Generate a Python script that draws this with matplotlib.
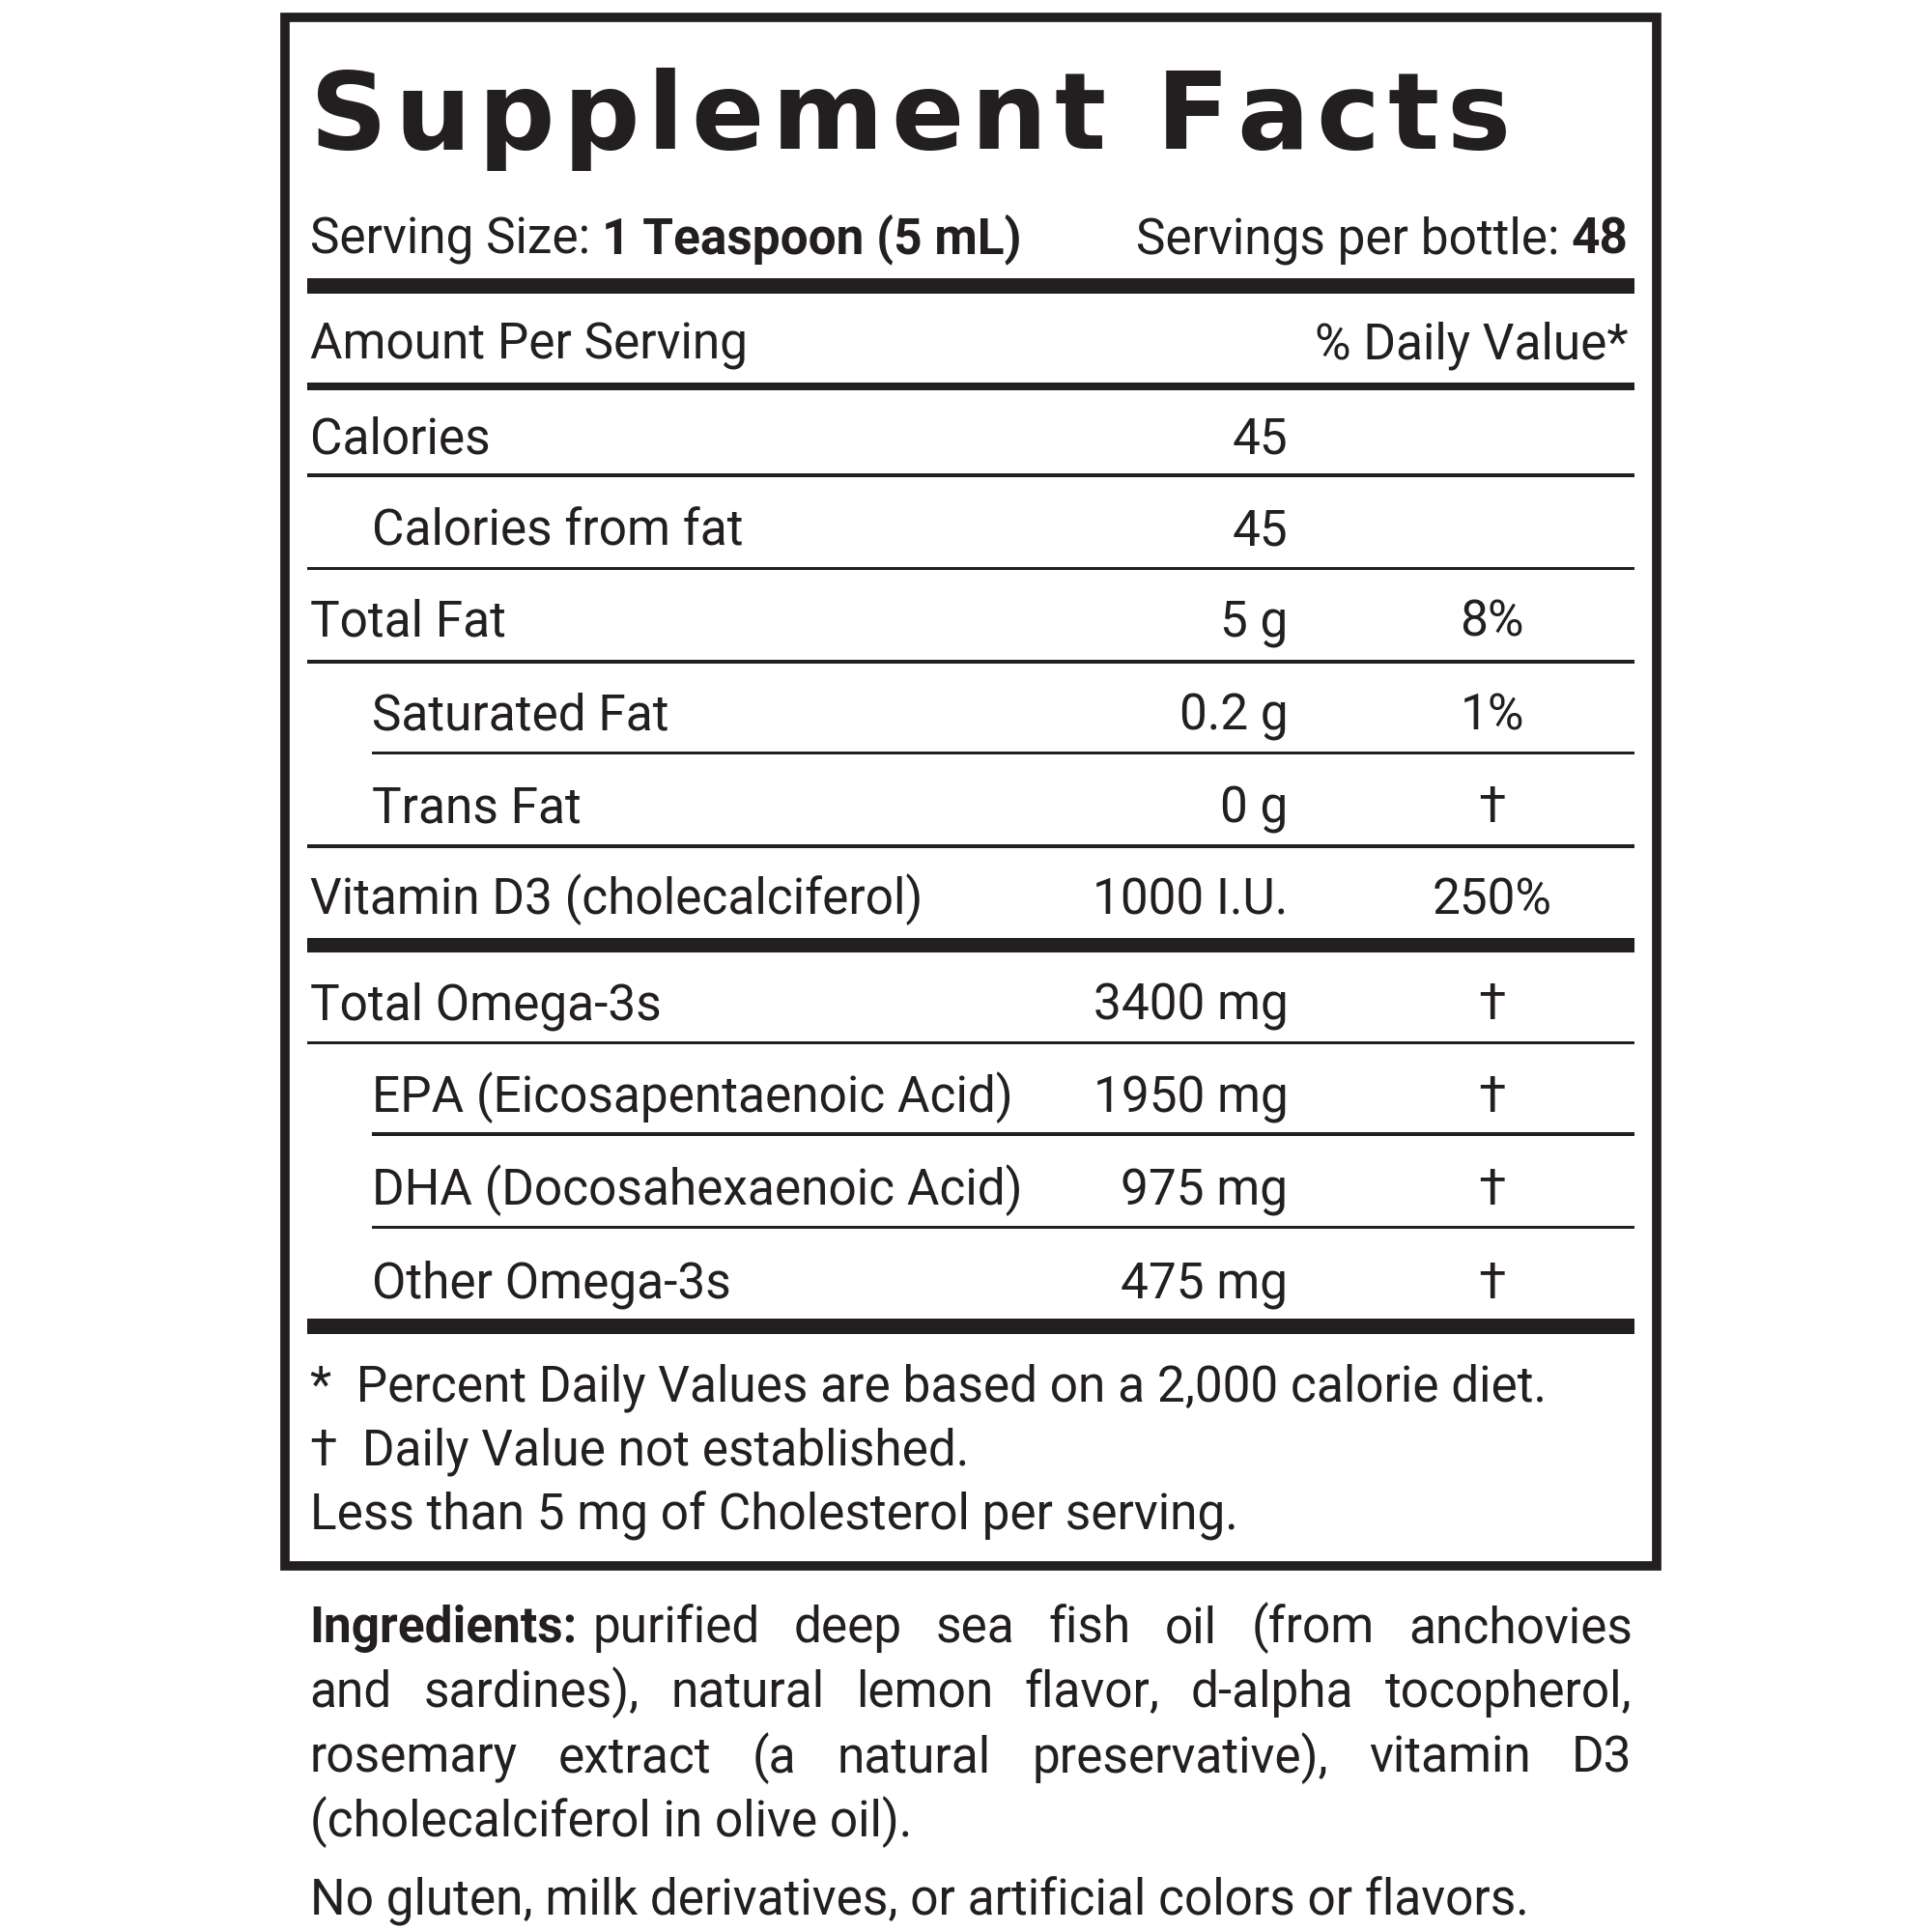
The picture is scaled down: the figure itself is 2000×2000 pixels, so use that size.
import matplotlib
matplotlib.use('Agg')
import matplotlib.pyplot as plt
from matplotlib.patches import Rectangle

# Daten
labels = ['Calories', 'Calories from fat', 'Total Fat', 'Saturated Fat', 'Trans Fat',
          'Vitamin D3 (cholecalciferol)', 'Total Omega-3s', 'EPA (Eicosapentaenoic Acid)',
          'DHA (Docosahexaenoic Acid)', 'Other Omega-3s']
amounts = ['45', '45', '5 g', '0.2 g', '0 g', '1000 I.U.', '3400 mg', '1950 mg', '975 mg', '475 mg']
dvs = ['', '', '8%', '1%', '\u2020', '250%', '\u2020', '\u2020', '\u2020', '\u2020']
indent = [False, True, False, True, True, False, False, True, True, True]
row_y = [350, 424, 498, 573, 648, 722, 807, 882, 957, 1032]
# separator below each row: (y, start x, thickness)
seps = [(384, 248, 3), (459, 248, 3), (534, 248, 3), (608, 300, 3), (683, 248, 3),
        (763, 248, 12), (842, 248, 3), (916, 300, 3), (991, 300, 3), (1071, 248, 12)]
footnotes = ['*  Percent Daily Values are based on a 2,000 calorie diet.',
             '\u2020  Daily Value not established.',
             'Less than 5 mg of Cholesterol per serving.']
ingr_lines = ['purified deep sea fish oil (from anchovies',
              'and sardines), natural lemon flavor, d-alpha tocopherol,',
              'rosemary extract (a natural preservative), vitamin D3',
              '(cholecalciferol in olive oil).']
last_line = 'No gluten, milk derivatives, or artificial colors or flavors.'

S = 1560.0
FONT = ['Roboto', 'DejaVu Sans']
FS = 37
C = '#231f20'

fig = plt.figure(figsize=(20, 20), dpi=100)
ax = fig.add_axes([0, 0, 1, 1])
ax.set_xlim(0, S)
ax.set_ylim(S, 0)
ax.axis('off')

def txt(x, y, s, ha='left', size=FS, weight='normal', **kw):
    return ax.text(x, y, s, ha=ha, va='baseline', fontsize=size, fontweight=weight,
                   family=FONT, color=C, **kw)

def bar(y, x0, x1, th):
    ax.add_patch(Rectangle((x0, y - th / 2), x1 - x0, th, color=C, lw=0))

r = fig.canvas.get_renderer()

def width(a):
    return a.get_window_extent(r).width / 2000 * S

ax.add_patch(Rectangle((230, 14), 1108, 1250, fill=False, ec=C, lw=7))

# title with letter spacing
tx = 250
for ch in 'Supplement Facts':
    t = ax.text(tx, 120, ch, fontsize=80, fontweight='heavy', family='DejaVu Sans',
                color=C, va='baseline')
    tx += (width(t) if ch != ' ' else 28) + 6

t1 = txt(250, 205, 'Serving Size: ')
txt(250 + width(t1), 205, '1 Teaspoon (5 mL)', weight='bold')
t2 = txt(1315, 205, '48', ha='right', weight='bold')
txt(1315 - width(t2), 205, 'Servings per bottle: ', ha='right')

bar(231, 248, 1320, 12)
txt(250, 290, 'Amount Per Serving')
txt(1315, 290, '% Daily Value*', ha='right')
bar(312, 248, 1320, 6)

for i in range(len(labels)):
    y = row_y[i] + 16
    txt(300 if indent[i] else 250, y, labels[i])
    txt(1040, y, amounts[i], ha='right')
    txt(1205, y, dvs[i], ha='center')
    sy, sx, th = seps[i]
    bar(sy, sx, 1320, th)

for j, f in enumerate(footnotes):
    txt(250, 1131 + j * 52, f)

# Ingredients, justified
ing_y = [1326, 1378, 1431, 1483]
lab = txt(250, ing_y[0], 'Ingredients:', weight='bold')
lw = width(lab)
for k, line in enumerate(ingr_lines):
    x0 = 250 + (lw + 12 if k == 0 else 0)
    words = line.split(' ')
    if k == len(ingr_lines) - 1:
        txt(x0, ing_y[k], line)
        continue
    arts = [txt(0, ing_y[k], w) for w in words]
    ws = [width(a) for a in arts]
    gap = max((1318 - x0 - sum(ws)) / (len(words) - 1), 8)
    xx = x0
    for a, w in zip(arts, ws):
        a.set_x(xx)
        xx += w + gap
txt(250, 1546, last_line)

fig.savefig('out.png', dpi=100, facecolor='white')
